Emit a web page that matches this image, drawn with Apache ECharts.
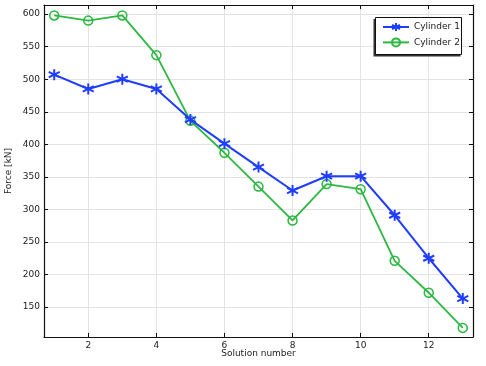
<!DOCTYPE html>
<html>
<head>
<meta charset="utf-8">
<script src="https://cdn.jsdelivr.net/npm/echarts@6/dist/echarts.min.js"></script>
<style>html,body{margin:0;padding:0;background:#fff}#c{width:486px;height:366px}</style>
</head>
<body>
<div id="c"></div>
<script>
const solutions = [1,2,3,4,5,6,7,8,9,10,11,12,13];
const cylinder1 = [507,485,500,485,438,401,365,329,351,351,291,225,163];
const cylinder2 = [598,590,598,537,436,387,335,283,339,331,221,172,118];
const xTicks = [2,4,6,8,10,12];
const yTicks = [150,200,250,300,350,400,450,500,550,600];
const seriesNames = ['Cylinder 1','Cylinder 2'];

const blue = '#1f3dff';
const green = '#2db842';
const font = 'DejaVu Sans';
const asterisk = 'path://M10 0 L10 20 M1.34 5 L18.66 15 M1.34 15 L18.66 5';

const chart = echarts.init(document.getElementById('c'), null, {renderer:'canvas'});
const xr = [0.7, 13.3], yr = [104, 614];
const axisLineStyle = {color:'#111', width:1.2};
chart.setOption({
  animation:false,
  backgroundColor:'#fff',
  grid:{left:44, right:13, top:5, bottom:29, show:false, containLabel:false, outerBoundsMode:'none'},
  graphic:[{
    type:'rect', z:10, silent:true,
    shape:{x:373.5, y:19, width:87, height:37.5}, style:{fill:'#333'}
  },{
    type:'rect', z:11, silent:true,
    shape:{x:375.5, y:17.5, width:86, height:37}, style:{fill:'#fff', stroke:'#111', lineWidth:1}
  }],
  legend:{
    left:382, top:22, orient:'vertical', z:20,
    padding:0, itemGap:5.4, itemWidth:26, itemHeight:10,
    textStyle:{fontFamily:font, fontSize:9, color:'#222'},
    data:seriesNames
  },
  xAxis:[{
    type:'value', min:xr[0], max:xr[1],
    name:'Solution number', nameLocation:'middle', nameGap:12, nameMoveOverlap:false,
    nameTextStyle:{fontFamily:font, fontSize:9, color:'#222'},
    axisLine:{show:true, onZero:false, lineStyle:axisLineStyle},
    axisTick:{show:true, inside:true, length:4, customValues:xTicks, lineStyle:{color:'#111'}},
    axisLabel:{customValues:xTicks, fontFamily:font, fontSize:9, color:'#222', margin:4},
    splitLine:{show:true, lineStyle:{color:'#e3e3e3', width:1}}
  },{
    type:'value', min:xr[0], max:xr[1], position:'top',
    axisLine:{show:true, onZero:false, lineStyle:axisLineStyle},
    axisTick:{show:true, inside:true, length:4, customValues:xTicks, lineStyle:{color:'#111'}},
    axisLabel:{show:false}, splitLine:{show:false}
  }],
  yAxis:[{
    type:'value', min:yr[0], max:yr[1],
    name:'Force [kN]', nameLocation:'middle', nameGap:31, nameRotate:90, nameMoveOverlap:false,
    nameTextStyle:{fontFamily:font, fontSize:9, color:'#222'},
    axisLine:{show:true, onZero:false, lineStyle:axisLineStyle},
    axisTick:{show:true, inside:true, length:4, customValues:yTicks, lineStyle:{color:'#111'}},
    axisLabel:{customValues:yTicks, fontFamily:font, fontSize:9, color:'#222', margin:4},
    splitLine:{show:true, lineStyle:{color:'#e3e3e3', width:1}}
  },{
    type:'value', min:yr[0], max:yr[1], position:'right',
    axisLine:{show:true, onZero:false, lineStyle:axisLineStyle},
    axisTick:{show:true, inside:true, length:4, customValues:yTicks, lineStyle:{color:'#111'}},
    axisLabel:{show:false}, splitLine:{show:false}
  }],
  series:[{
    name:seriesNames[0], type:'line',
    data:solutions.map((s,i)=>[s,cylinder1[i]]),
    symbol:asterisk, symbolSize:11,
    lineStyle:{color:blue, width:2},
    itemStyle:{color:blue, borderColor:blue, borderWidth:2},
    z:3
  },{
    name:seriesNames[1], type:'line',
    data:solutions.map((s,i)=>[s,cylinder2[i]]),
    symbol:'circle', symbolSize:9,
    lineStyle:{color:green, width:1.8},
    itemStyle:{color:'rgba(255,255,255,0)', borderColor:green, borderWidth:1.5},
    z:2
  }]
});
</script>
</body>
</html>
